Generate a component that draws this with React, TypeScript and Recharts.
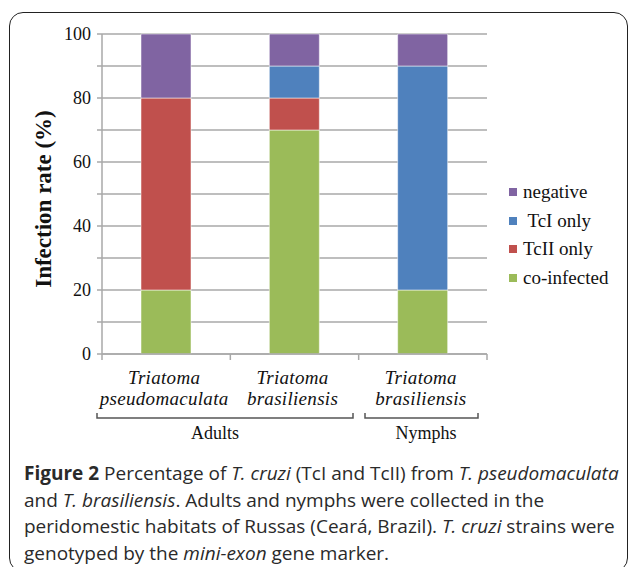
import { BarChart, Bar, XAxis, YAxis, CartesianGrid } from 'recharts';

const categories = ['Triatoma pseudomaculata', 'Triatoma brasiliensis', 'Triatoma brasiliensis'];
const coInfected = [20, 70, 20];
const tcIIOnly = [60, 10, 0];
const tcIOnly = [0, 10, 70];
const negative = [20, 10, 10];
const yTicks = [0, 10, 20, 30, 40, 50, 60, 70, 80, 90, 100];

const series = [
  { key: 'coInfected', label: 'co-infected', color: '#9BBB59' },
  { key: 'tcIIOnly', label: 'TcII only', color: '#C0504D' },
  { key: 'tcIOnly', label: ' TcI only', color: '#4F81BD' },
  { key: 'negative', label: 'negative', color: '#8064A2' },
];

const data = categories.map((name, i) => ({
  name,
  coInfected: coInfected[i],
  tcIIOnly: tcIIOnly[i],
  tcIOnly: tcIOnly[i],
  negative: negative[i],
}));

const SERIF = '"Liberation Serif", "Times New Roman", serif';
const GRID = '#a8a8a8';

// two-line italic category label + small tick marks on the band edges
const CategoryTick = (props: any) => {
  const { x, y, payload } = props;
  const half = payload.offset || 64;
  const [first, second] = String(payload.value).split(' ');
  const last = payload.index === categories.length - 1;
  return (
    <g>
      <line x1={x - half} x2={x - half} y1={y - 8} y2={y - 2} stroke={GRID} strokeWidth={1.5} />
      {last && <line x1={x + half} x2={x + half} y1={y - 8} y2={y - 2} stroke={GRID} strokeWidth={1.5} />}
      <text x={x - 2} y={y} textAnchor="middle" fontFamily={SERIF} fontStyle="italic" fontSize={19} letterSpacing={0.3} fill="#111">
        <tspan x={x - 2} dy={22}>{first}</tspan>
        <tspan x={x - 2} dy={21}>{second}</tspan>
      </text>
    </g>
  );
};

export default function App() {
  return (
    <div style={{ position: 'absolute', left: 0, top: 0, width: 629, height: 567, overflow: 'hidden', background: '#fff' }}>
      <div
        style={{
          position: 'absolute', left: 9, top: 12, width: 619, height: 560,
          border: '1.5px solid #222', borderRadius: 14, boxSizing: 'border-box',
        }}
      />
      <div style={{ position: 'absolute', left: 0, top: 0 }}>
        <BarChart width={629} height={414} data={data} margin={{ top: 34, right: 142, left: 0, bottom: 0 }} barSize={50}>
          <CartesianGrid vertical={false} stroke={GRID} strokeWidth={1.5} />
          <XAxis
            dataKey="name"
            interval={0}
            height={60}
            tickLine={false}
            tickSize={6}
            tickMargin={2}
            axisLine={{ stroke: GRID, strokeWidth: 1.5 }}
            tick={<CategoryTick />}
          />
          <YAxis
            width={102}
            domain={[0, 100]}
            ticks={yTicks}
            interval={0}
            tickSize={5}
            tickMargin={6}
            tickFormatter={(v: number) => (v % 20 === 0 ? String(v) : '')}
            axisLine={{ stroke: GRID, strokeWidth: 1.5 }}
            tickLine={{ stroke: GRID, strokeWidth: 1.5 }}
            tick={{ fill: '#111', fontSize: 18, fontFamily: SERIF }}
          />
          {series.map((s) => (
            <Bar
              key={s.key}
              dataKey={s.key}
              name={s.label}
              stackId="a"
              fill={s.color}
              stroke="#ffffff"
              strokeOpacity={0.5}
              strokeWidth={1}
              isAnimationActive={false}
            />
          ))}
        </BarChart>
      </div>
      {/* legend, top series first */}
      <div style={{ position: 'absolute', left: 509, top: 178, fontFamily: SERIF, fontSize: 19, color: '#111' }}>
        {[...series].reverse().map((s) => (
          <div key={s.key} style={{ display: 'flex', alignItems: 'center', height: 28.5, whiteSpace: 'pre' }}>
            <span style={{ width: 8, height: 8, background: s.color, marginRight: 6, display: 'inline-block' }} />
            <span>{s.label}</span>
          </div>
        ))}
      </div>
      <svg width={629} height={567} style={{ position: 'absolute', left: 0, top: 0, pointerEvents: 'none' }}>
        <text
          transform="translate(43,199) rotate(-90)"
          textAnchor="middle"
          dominantBaseline="central"
          fontFamily={SERIF}
          fontWeight="bold"
          fontSize={23}
          fill="#111"
        >
          Infection rate (%)
        </text>
        <path d="M97,413 V418 H353 V413" fill="none" stroke="#555" strokeWidth={1.5} />
        <path d="M365,413 V418 H478 V413" fill="none" stroke="#555" strokeWidth={1.5} />
        <text x={215} y={439} textAnchor="middle" fontFamily={SERIF} fontSize={18} fill="#111">Adults</text>
        <text x={426} y={439} textAnchor="middle" fontFamily={SERIF} fontSize={18} fill="#111">Nymphs</text>
      </svg>
      <div
        style={{
          position: 'absolute', left: 24, top: 460, fontFamily: '"Open Sans", sans-serif',
          fontSize: 19, lineHeight: '26.5px', color: '#2a2a2a', whiteSpace: 'nowrap',
        }}
      >
        <b>Figure 2</b> Percentage of <i>T. cruzi</i> (TcI and TcII) from <i>T. pseudomaculata</i>
        <br />
        and <i>T. brasiliensis</i>. Adults and nymphs were collected in the
        <br />
        peridomestic habitats of Russas (Ceará, Brazil). <i>T. cruzi</i> strains were
        <br />
        genotyped by the <i>mini-exon</i> gene marker.
      </div>
    </div>
  );
}
